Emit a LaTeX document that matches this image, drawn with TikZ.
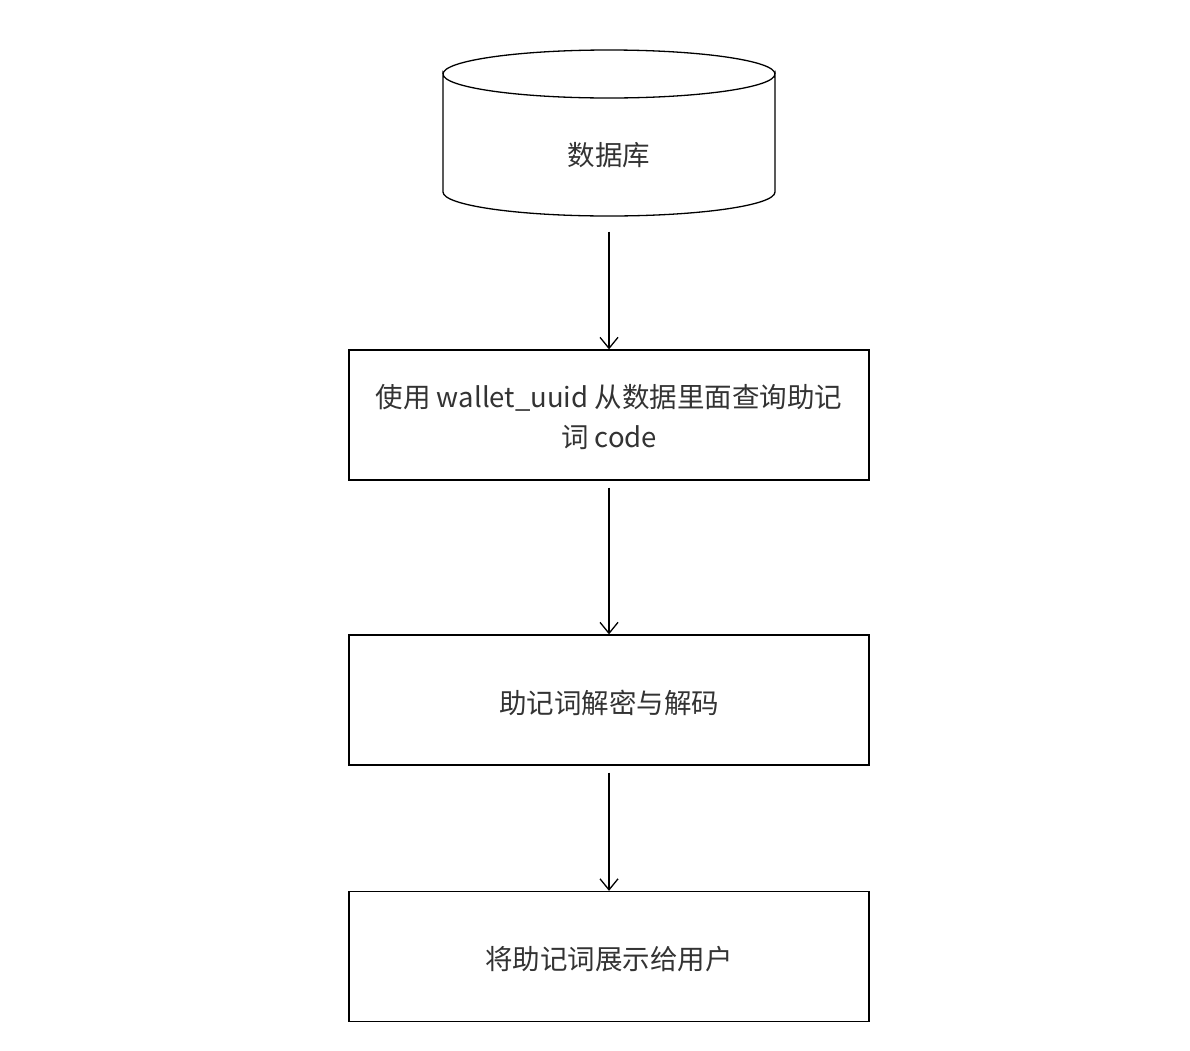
\documentclass[tikz,border=0pt]{standalone}
\usepackage{fontspec}
\newfontfamily\cjk{Noto Sans CJK SC}
\usetikzlibrary{arrows.meta}
\definecolor{ink}{HTML}{333333}
\begin{document}
\begin{tikzpicture}[x=1pt,y=-1pt,
  line width=1.3pt,
  stepbox/.style={draw, rectangle, minimum width=520pt, minimum height=130pt, inner sep=0pt},
  steptext/.style={align=center, font=\cjk\fontsize{27.5pt}{40pt}\selectfont, text=ink,
    inner sep=0pt, yshift=-2.5pt},
  flow/.style={-{Straight Barb[length=11pt,width=18pt,line width=1.3pt]}},
]
\useasboundingbox (0,0) rectangle (1190,1050);

% database cylinder
\draw (443,74) arc[start angle=180, end angle=0, x radius=166, y radius=24]
  -- (775,192) arc[start angle=0, end angle=180, x radius=166, y radius=24] -- cycle;
\draw (443,74) arc[start angle=180, end angle=360, x radius=166, y radius=24];
\node[inner sep=0pt, minimum width=332pt, minimum height=180pt] (db) at (609,140) {};
\node[font=\cjk\fontsize{27.5pt}{30pt}\selectfont, text=ink] (dbtext) at (609,155) {数据库};

% process steps
\node[stepbox] (query) at (609,415) {};
\node[steptext] (querytext) at (query) {使用 wallet\_uuid 从数据里面查询助记\\词 code};
\node[stepbox] (decode) at (609,700) {};
\node[steptext] (decodetext) at (decode) {助记词解密与解码};
\node[stepbox] (show) at (609,956.5) {};
\node[steptext] (showtext) at (show) {将助记词展示给用户};

% connectors
\draw[flow] ([yshift=-1pt]db.south) -- (query.north);
\draw[flow] ([yshift=-7pt]query.south) -- (decode.north);
\draw[flow] ([yshift=-7pt]decode.south) -- (show.north);
\end{tikzpicture}
\end{document}
